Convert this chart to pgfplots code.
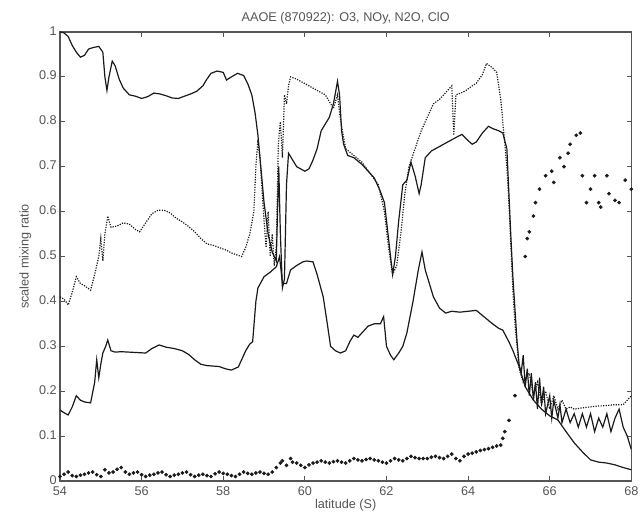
\documentclass[border=0pt]{standalone}
\usepackage{fontspec}
\setmainfont{Liberation Sans}
\usepackage{pgfplots}
\pgfplotsset{compat=1.18}
\definecolor{ink}{HTML}{1A1A1A}
\definecolor{txt}{HTML}{555555}
\begin{document}
\begin{tikzpicture}
\path[use as bounding box] (-45pt,-37.5pt) rectangle (435.75pt,360.75pt);
\begin{axis}[
  at={(0pt,0pt)}, anchor=south west,
  scale only axis, width=428.5pt, height=336.75pt,
  xmin=54, xmax=68, ymin=0, ymax=1,
  xtick={54,56,58,60,62,64,66,68},
  xticklabels={54,56,58,60,62,64,66,68},
  ytick={0,0.1,0.2,0.3,0.4,0.5,0.6,0.7,0.8,0.9,1},
  yticklabels={0,0.1,0.2,0.3,0.4,0.5,0.6,0.7,0.8,0.9,1},
  tick align=inside, major tick length=3.5pt,
  axis line style={txt, line width=0.8pt},
  tick style={txt, line width=0.6pt},
  font=\fontsize{9.5}{11}\selectfont,
  tick label style={txt, font=\fontsize{9.5}{11}\selectfont},
  xticklabel style={yshift=-0.5pt},
  yticklabel style={xshift=1pt, yshift=1pt},
  title={AAOE (870922): O3, NOy, N2O, ClO},
  title style={txt, yshift=-4pt},
  xlabel={latitude (S)}, xlabel style={txt, yshift=4pt},
  ylabel={scaled mixing ratio}, ylabel style={txt, yshift=-1pt},
  clip=true,
]
% series 1 (solid, upper)
\addplot[ink, line width=0.9pt] coordinates {
(54.0,1.0)(54.1,0.998)(54.2,0.99)(54.3,0.97)(54.4,0.955)(54.5,0.944)(54.6,0.948)(54.7,0.962)(54.8,0.965)(54.95,0.968)
(55.05,0.955)(55.1,0.90)(55.15,0.87)(55.2,0.90)(55.28,0.935)(55.35,0.925)(55.45,0.895)(55.55,0.875)(55.7,0.86)(55.85,0.857)
(56.0,0.852)(56.15,0.856)(56.3,0.864)(56.45,0.862)(56.6,0.858)(56.75,0.853)(56.9,0.852)(57.05,0.857)(57.2,0.862)(57.35,0.868)
(57.5,0.88)(57.6,0.895)(57.7,0.908)(57.85,0.913)(58.0,0.91)(58.08,0.893)(58.2,0.9)(58.35,0.908)(58.5,0.903)(58.6,0.885)
(58.7,0.86)(58.78,0.82)(58.85,0.77)(58.92,0.70)(59.0,0.62)(59.1,0.55)(59.2,0.51)(59.3,0.49)(59.33,0.60)(59.36,0.70)
(59.4,0.55)(59.45,0.43)(59.5,0.45)(59.55,0.66)(59.6,0.73)(59.7,0.715)(59.8,0.70)(59.9,0.695)(60.0,0.69)(60.1,0.695)
(60.2,0.715)(60.3,0.74)(60.4,0.78)(60.5,0.795)(60.6,0.81)(60.7,0.84)(60.8,0.89)(60.85,0.86)(60.9,0.78)(60.95,0.75)
(61.05,0.725)(61.2,0.72)(61.4,0.705)(61.55,0.69)(61.7,0.675)(61.85,0.645)(61.95,0.62)(62.05,0.54)(62.15,0.46)(62.22,0.50)
(62.3,0.58)(62.4,0.66)(62.5,0.67)(62.6,0.71)(62.7,0.68)(62.8,0.64)(62.85,0.66)(62.95,0.72)(63.1,0.735)(63.3,0.745)
(63.5,0.755)(63.7,0.765)(63.85,0.772)(64.0,0.758)(64.1,0.75)(64.2,0.755)(64.35,0.775)(64.5,0.79)(64.6,0.785)(64.75,0.78)
(64.85,0.775)(64.95,0.74)(65.0,0.64)(65.05,0.54)(65.1,0.45)(65.15,0.38)(65.2,0.31)(65.25,0.26)(65.3,0.24)(65.35,0.28)(65.4,0.21)
(65.45,0.25)(65.5,0.19)(65.55,0.24)(65.6,0.18)(65.65,0.22)(65.7,0.16)(65.75,0.23)(65.8,0.17)(65.85,0.21)(65.9,0.15)(66.0,0.19)
(66.05,0.14)(66.1,0.18)(66.2,0.14)(66.25,0.17)(66.3,0.13)(66.4,0.16)(66.5,0.13)(66.6,0.15)(66.7,0.12)(66.8,0.15)(66.9,0.12)
(67.0,0.15)(67.1,0.11)(67.2,0.14)(67.3,0.12)(67.4,0.15)(67.5,0.11)(67.6,0.14)(67.7,0.16)(67.8,0.12)(67.9,0.10)(68.0,0.07)
};
% series 2 (dotted)
\addplot[ink, line width=0.9pt, densely dotted] coordinates {
(54.0,0.41)(54.1,0.405)(54.2,0.392)(54.3,0.42)(54.4,0.455)(54.5,0.44)(54.6,0.435)(54.75,0.425)(54.85,0.46)(54.95,0.50)
(55.0,0.54)(55.05,0.49)(55.1,0.55)(55.17,0.59)(55.25,0.565)(55.4,0.568)(55.55,0.575)(55.7,0.572)(55.85,0.56)(55.95,0.555)
(56.1,0.575)(56.25,0.595)(56.4,0.603)(56.55,0.603)(56.7,0.597)(56.85,0.585)(57.0,0.577)(57.15,0.567)(57.3,0.555)(57.45,0.54)
(57.6,0.528)(57.75,0.525)(57.9,0.52)(58.05,0.515)(58.2,0.508)(58.35,0.503)(58.45,0.50)(58.55,0.52)(58.65,0.55)(58.75,0.60)
(58.8,0.70)(58.85,0.76)(58.9,0.72)(58.95,0.65)(59.0,0.58)(59.05,0.52)(59.1,0.60)(59.15,0.50)(59.2,0.55)(59.25,0.48)
(59.3,0.52)(59.35,0.75)(59.4,0.80)(59.45,0.72)(59.5,0.86)(59.55,0.84)(59.6,0.88)(59.65,0.90)(59.8,0.895)(60.0,0.885)
(60.2,0.875)(60.4,0.865)(60.5,0.86)(60.6,0.845)(60.7,0.83)(60.8,0.86)(60.85,0.82)(60.9,0.79)(61.0,0.74)(61.2,0.725)
(61.4,0.71)(61.6,0.685)(61.8,0.66)(61.95,0.60)(62.05,0.52)(62.15,0.46)(62.25,0.48)(62.35,0.55)(62.45,0.64)(62.55,0.70)
(62.7,0.74)(62.85,0.78)(63.0,0.81)(63.15,0.84)(63.3,0.85)(63.45,0.865)(63.6,0.88)(63.65,0.77)(63.7,0.86)(63.85,0.865)
(63.95,0.87)(64.1,0.88)(64.2,0.886)(64.35,0.905)(64.45,0.93)(64.6,0.92)(64.7,0.91)(64.8,0.85)(64.85,0.80)(64.9,0.75)
(64.95,0.70)(65.0,0.62)(65.05,0.52)(65.1,0.42)(65.15,0.35)(65.2,0.30)(65.25,0.25)(65.35,0.22)(65.5,0.24)(65.6,0.19)
(65.7,0.22)(65.8,0.17)(65.9,0.20)(66.0,0.16)(66.1,0.19)(66.2,0.16)(66.3,0.18)(66.4,0.16)(66.5,0.165)(66.6,0.16)
(66.8,0.163)(67.0,0.165)(67.2,0.167)(67.4,0.168)(67.6,0.17)(67.8,0.17)(67.9,0.18)(68.0,0.19)
};
% series 3 (solid, lower)
\addplot[ink, line width=0.9pt] coordinates {
(54.0,0.158)(54.1,0.152)(54.2,0.147)(54.3,0.165)(54.4,0.19)(54.5,0.18)(54.6,0.176)(54.75,0.174)(54.85,0.22)(54.9,0.27)
(54.95,0.23)(55.0,0.26)(55.05,0.285)(55.12,0.30)(55.17,0.314)(55.25,0.29)(55.35,0.287)(55.5,0.288)(55.7,0.287)(55.9,0.286)
(56.1,0.285)(56.25,0.295)(56.43,0.303)(56.6,0.298)(56.8,0.295)(57.0,0.29)(57.15,0.282)(57.3,0.27)(57.45,0.26)(57.6,0.257)
(57.9,0.255)(58.05,0.25)(58.2,0.247)(58.37,0.254)(58.45,0.27)(58.55,0.29)(58.65,0.305)(58.72,0.31)(58.8,0.40)(58.85,0.43)
(59.0,0.455)(59.15,0.465)(59.3,0.477)(59.38,0.50)(59.45,0.44)(59.55,0.44)(59.65,0.47)(59.8,0.48)(59.95,0.488)(60.05,0.49)
(60.2,0.488)(60.3,0.46)(60.45,0.41)(60.55,0.35)(60.63,0.30)(60.75,0.29)(60.87,0.285)(61.0,0.29)(61.1,0.31)(61.2,0.325)
(61.3,0.32)(61.45,0.335)(61.55,0.345)(61.7,0.35)(61.85,0.35)(61.93,0.366)(62.0,0.30)(62.1,0.28)(62.18,0.27)(62.3,0.285)
(62.4,0.30)(62.5,0.33)(62.65,0.40)(62.78,0.47)(62.87,0.51)(62.95,0.47)(63.05,0.44)(63.15,0.41)(63.3,0.385)(63.45,0.374)
(63.6,0.378)(63.8,0.376)(64.0,0.378)(64.2,0.38)(64.4,0.365)(64.6,0.35)(64.75,0.34)(64.85,0.336)(65.0,0.31)(65.1,0.29)
(65.25,0.255)(65.4,0.21)(65.6,0.18)(65.8,0.16)(66.0,0.145)(66.2,0.136)(66.4,0.11)(66.6,0.085)(66.8,0.065)(67.0,0.047)
(67.2,0.042)(67.4,0.04)(67.6,0.036)(67.8,0.03)(68.0,0.025)
};
% series 4 (ClO, dots)
\addplot[ink, only marks, mark=*, mark size=1.2pt] coordinates {
(54.0,0.01)(54.1,0.015)(54.2,0.02)(54.3,0.012)(54.4,0.01)(54.5,0.013)(54.6,0.015)(54.7,0.018)(54.8,0.02)(54.9,0.014)
(55.0,0.01)(55.1,0.025)(55.2,0.018)(55.3,0.02)(55.4,0.026)(55.5,0.03)(55.6,0.02)(55.7,0.015)(55.8,0.018)(55.9,0.02)
(56.0,0.014)(56.1,0.01)(56.2,0.013)(56.3,0.015)(56.4,0.018)(56.5,0.02)(56.6,0.014)(56.7,0.01)(56.8,0.013)(56.9,0.015)
(57.0,0.018)(57.1,0.02)(57.2,0.014)(57.3,0.01)(57.4,0.013)(57.5,0.015)(57.6,0.012)(57.7,0.01)(57.8,0.016)(57.9,0.02)
(58.0,0.017)(58.1,0.015)(58.2,0.012)(58.3,0.01)(58.4,0.015)(58.5,0.02)(58.6,0.017)(58.7,0.015)(58.8,0.018)(58.9,0.02)
(59.0,0.017)(59.1,0.015)(59.2,0.02)(59.3,0.03)(59.4,0.04)(59.45,0.045)(59.55,0.035)(59.65,0.05)(59.7,0.042)(59.8,0.04)
(59.9,0.035)(60.0,0.03)(60.1,0.036)(60.2,0.04)(60.3,0.042)(60.4,0.045)(60.5,0.042)(60.6,0.04)(60.7,0.043)(60.8,0.045)
(60.9,0.042)(61.0,0.04)(61.1,0.045)(61.2,0.05)(61.3,0.047)(61.4,0.045)(61.5,0.048)(61.6,0.05)(61.7,0.047)(61.8,0.045)
(61.9,0.042)(62.0,0.04)(62.1,0.045)(62.2,0.05)(62.3,0.047)(62.4,0.045)(62.5,0.05)(62.6,0.055)(62.7,0.052)(62.8,0.05)
(62.9,0.05)(63.0,0.05)(63.1,0.053)(63.2,0.055)(63.3,0.052)(63.4,0.05)(63.5,0.055)(63.6,0.06)(63.7,0.05)(63.8,0.045)
(63.9,0.055)(64.0,0.06)(64.1,0.062)(64.2,0.065)(64.3,0.068)(64.4,0.07)(64.5,0.072)(64.6,0.075)(64.7,0.078)(64.8,0.08)
(64.85,0.095)(64.9,0.11)(65.0,0.135)(65.15,0.19)
(65.4,0.50)(65.45,0.54)(65.5,0.555)(65.6,0.59)(65.65,0.62)(65.75,0.65)(65.9,0.68)(66.05,0.69)(66.1,0.665)(66.25,0.72)
(66.35,0.70)(66.45,0.73)(66.5,0.75)(66.65,0.77)(66.75,0.775)(66.8,0.68)(66.9,0.62)(67.0,0.65)(67.1,0.68)(67.2,0.62)
(67.25,0.61)(67.4,0.68)(67.45,0.64)(67.6,0.625)(67.7,0.62)(67.85,0.67)(68.0,0.65)
};
\end{axis}
\end{tikzpicture}
\end{document}
